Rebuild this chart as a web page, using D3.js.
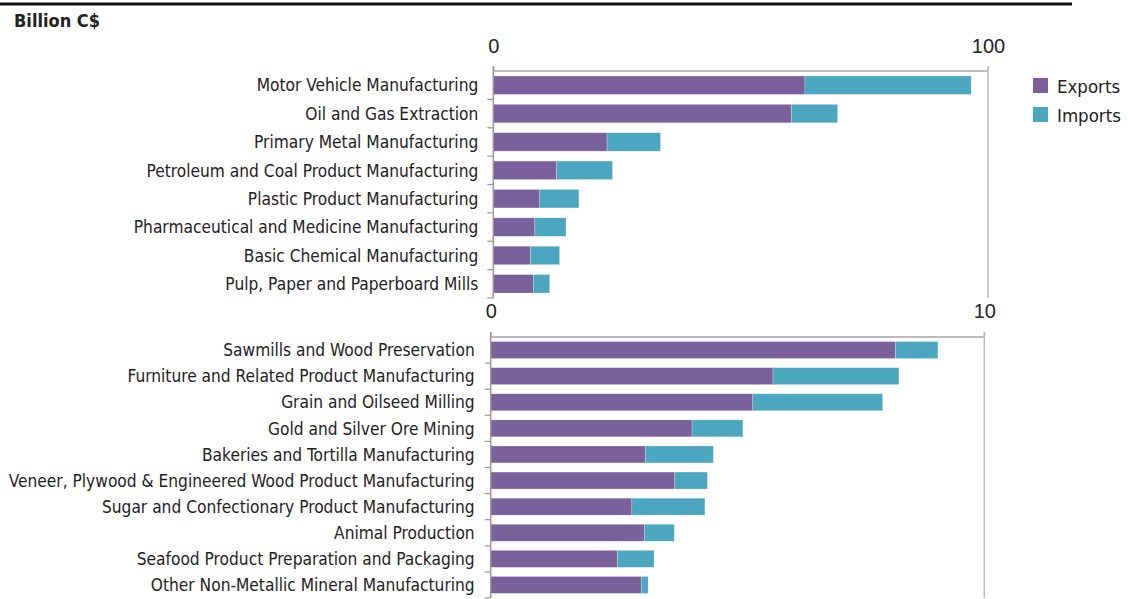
<!DOCTYPE html>
<html>
<head>
<meta charset="utf-8">
<script src="https://cdn.jsdelivr.net/npm/d3@7/dist/d3.min.js"></script>
<style>
  body { margin: 0; background: #fff; }
  svg { display: block; }
  .lab { font-family: "DejaVu Sans Condensed", "DejaVu Sans", sans-serif; font-size: 17.2px; fill: #222; }
  .num { font-family: "Liberation Sans", Arial, sans-serif; font-size: 20px; fill: #222; }
</style>
</head>
<body>
<svg width="1128" height="599"></svg>
<script>
// upper panel (0-100 billion)
var topCats = ["Motor Vehicle Manufacturing", "Oil and Gas Extraction", "Primary Metal Manufacturing",
  "Petroleum and Coal Product Manufacturing", "Plastic Product Manufacturing",
  "Pharmaceutical and Medicine Manufacturing", "Basic Chemical Manufacturing",
  "Pulp, Paper and Paperboard Mills"];
var topExports = [63.0, 60.3, 23.0, 12.8, 9.4, 8.4, 7.5, 8.1];
var topImports = [33.6, 9.3, 10.8, 11.3, 7.9, 6.3, 5.9, 3.3];
var topTicks = [0, 100];

// lower panel (0-10 billion)
var botCats = ["Sawmills and Wood Preservation", "Furniture and Related Product Manufacturing",
  "Grain and Oilseed Milling", "Gold and Silver Ore Mining", "Bakeries and Tortilla Manufacturing",
  "Veneer, Plywood & Engineered Wood Product Manufacturing", "Sugar and Confectionary Product Manufacturing",
  "Animal Production", "Seafood Product Preparation and Packaging", "Other Non-Metallic Mineral Manufacturing"];
var botExports = [8.20, 5.72, 5.31, 4.08, 3.14, 3.73, 2.86, 3.12, 2.57, 3.05];
var botImports = [0.86, 2.55, 2.63, 1.03, 1.37, 0.66, 1.48, 0.60, 0.74, 0.14];
var botTicks = [0, 10];

var seriesNames = ["Exports", "Imports"];
var colors = ["#7b619b", "#4ba6bf"];

var svg = d3.select("svg");

// header
svg.append("line").attr("x1", 0).attr("x2", 1072).attr("y1", 4).attr("y2", 4)
  .style("stroke", "#111").style("stroke-width", 3);
svg.append("text").attr("x", 14).attr("y", 27)
  .style("font-family", "\"DejaVu Sans Condensed\", sans-serif").style("font-weight", "bold")
  .style("font-size", "18px").style("fill", "#222").text("Billion C$");

function drawPanel(cats, exps, imps, ticks, box) {
  var x = d3.scaleLinear().domain([ticks[0], ticks[ticks.length - 1]]).range([box.left, box.right]);
  var y = d3.scaleBand().domain(cats).range([box.top, box.bottom]).paddingInner(0.35).paddingOuter(0.175);
  var g = svg.append("g");

  // frame: top line + right line
  g.append("line").attr("x1", box.left).attr("x2", box.right).attr("y1", box.top).attr("y2", box.top)
    .style("stroke", "#bbb").style("stroke-width", 2);
  g.append("line").attr("x1", box.right).attr("x2", box.right).attr("y1", box.top - 5).attr("y2", box.bottom)
    .style("stroke", "#bbb").style("stroke-width", 1.5);

  // x axis labels on top
  var xa = g.append("g").attr("transform", "translate(0," + box.top + ")")
    .call(d3.axisTop(x).tickValues(ticks).tickSize(5).tickPadding(box.labGap).tickFormat(d3.format("d")));
  xa.select(".domain").remove();
  xa.selectAll("line").style("stroke", "#bbb");
  xa.selectAll("text").attr("class", "num").attr("fill", null);

  // stacked bars
  var rows = cats.map(function(c, i) { return {cat: c, vals: [exps[i], imps[i]]}; });
  rows.forEach(function(r) {
    var acc = 0;
    r.vals.forEach(function(v, k) {
      g.append("rect")
        .attr("x", x(acc)).attr("width", x(acc + v) - x(acc))
        .attr("y", y(r.cat)).attr("height", y.bandwidth())
        .style("fill", colors[k]).style("stroke", "#fff").style("stroke-opacity", 0.4).style("stroke-width", 0.6);
      acc += v;
    });
  });

  // left axis with ticks at band boundaries
  var bounds = d3.range(cats.length + 1).map(function(i) { return box.top + i * (box.bottom - box.top) / cats.length; });
  g.append("line").attr("x1", box.left).attr("x2", box.left).attr("y1", box.top - 5).attr("y2", box.bottom)
    .style("stroke", "#999").style("stroke-width", 1.5);
  g.selectAll(".ytick").data(bounds.slice(1)).enter().append("line")
    .attr("x1", box.left - 6).attr("x2", box.left).attr("y1", function(d) { return d; }).attr("y2", function(d) { return d; })
    .style("stroke", "#999").style("stroke-width", 1.2);

  g.selectAll(".lab").data(cats).enter().append("text")
    .attr("class", "lab")
    .attr("x", box.left - box.catGap)
    .attr("y", function(d) { return y(d) + y.bandwidth() / 2; })
    .attr("dy", "0.36em")
    .attr("text-anchor", "end")
    .text(function(d) { return d; });
}

drawPanel(topCats, topExports, topImports, topTicks,
  {left: 493.3, right: 988, top: 71, bottom: 298, labGap: 13, catGap: 15});
drawPanel(botCats, botExports, botImports, botTicks,
  {left: 490.7, right: 984.3, top: 337, bottom: 598, labGap: 14, catGap: 16});

// legend
var leg = svg.append("g").attr("transform", "translate(1033,78)");
seriesNames.forEach(function(n, i) {
  leg.append("rect").attr("x", 0).attr("y", i * 29).attr("width", 15).attr("height", 15).style("fill", colors[i]);
  leg.append("text").attr("x", 24).attr("y", i * 29 + 8).attr("dy", "0.36em")
    .style("font-family", "\"DejaVu Sans Condensed\", sans-serif").style("font-size", "18.5px").style("fill", "#222")
    .text(n);
});
</script>
</body>
</html>
